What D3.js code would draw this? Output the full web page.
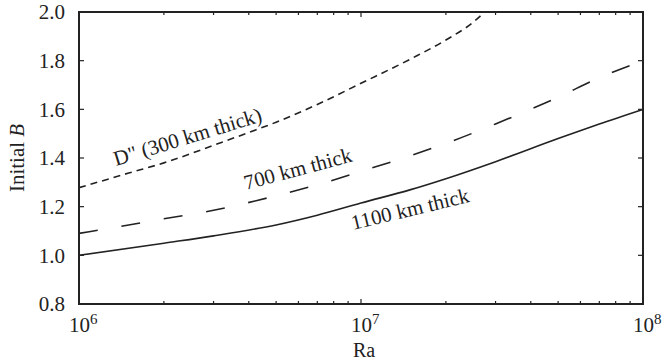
<!DOCTYPE html>
<html lang="en">
<head>
  <meta charset="UTF-8">
  <title>Initial B vs Ra</title>
  <script src="https://d3js.org/d3.v7.min.js"></script>
  <style>
    body { margin: 0; background: #fff; }
    svg { display: block; }
    text { font-family: "Liberation Serif", "Times New Roman", serif; fill: #222; }
  </style>
</head>
<body>
  <svg width="671" height="360"></svg>

  <script>
    // Rayleigh number samples and Initial B for each layer thickness
    const raDpp   = [1e6, 1.5e6, 2e6, 3e6, 4e6, 5e6, 7e6, 1e7, 1.5e7, 2e7, 2.5e7, 2.8e7];
    const bDpp    = [1.278, 1.338, 1.38, 1.452, 1.505, 1.547, 1.62, 1.707, 1.807, 1.885, 1.958, 2.01];

    const ra700   = [1e6, 1.5e6, 2e6, 3e6, 5e6, 7e6, 1e7, 1.5e7, 2e7, 3e7, 5e7, 7e7, 1e8];
    const b700    = [1.09, 1.125, 1.15, 1.185, 1.245, 1.29, 1.345, 1.41, 1.46, 1.54, 1.65, 1.73, 1.80];

    const ra1100  = [1e6, 2e6, 3e6, 5e6, 7e6, 1e7, 1.5e7, 2e7, 3e7, 5e7, 7e7, 1e8];
    const b1100   = [1.00, 1.05, 1.08, 1.125, 1.165, 1.215, 1.27, 1.315, 1.385, 1.48, 1.54, 1.60];

    const yTicks  = [0.8, 1.0, 1.2, 1.4, 1.6, 1.8, 2.0];
    const xMajor  = [1e6, 1e7, 1e8];
    const xExp    = ["6", "7", "8"];

    const svg = d3.select("svg");
    const margin = { top: 12, right: 28, bottom: 56, left: 79 };
    const width = 671, height = 360;

    const x = d3.scaleLog().domain([1e6, 1e8]).range([margin.left, width - margin.right]);
    const y = d3.scaleLinear().domain([0.8, 2.0]).range([height - margin.bottom, margin.top]);

    svg.append("clipPath").attr("id", "plot")
      .append("rect")
      .attr("x", margin.left).attr("y", margin.top)
      .attr("width", x.range()[1] - margin.left)
      .attr("height", y.range()[0] - margin.top);

    // minor ticks on log axis
    const xMinor = [];
    for (let e = 6; e < 8; e++) {
      for (let m = 2; m <= 9; m++) xMinor.push(m * Math.pow(10, e));
    }

    const tickG = svg.append("g").attr("stroke", "#222").attr("stroke-width", 1.2);
    const y0 = y(0.8), y1 = y(2.0);
    xMinor.forEach(v => {
      tickG.append("line").attr("x1", x(v)).attr("x2", x(v)).attr("y1", y0).attr("y2", y0 - 3);
      tickG.append("line").attr("x1", x(v)).attr("x2", x(v)).attr("y1", y1).attr("y2", y1 + 3);
    });
    xMajor.forEach(v => {
      tickG.append("line").attr("x1", x(v)).attr("x2", x(v)).attr("y1", y0).attr("y2", y0 - 5);
      tickG.append("line").attr("x1", x(v)).attr("x2", x(v)).attr("y1", y1).attr("y2", y1 + 5);
    });
    const xl = x(1e6), xr = x(1e8);
    yTicks.forEach(v => {
      tickG.append("line").attr("x1", xl).attr("x2", xl + 5).attr("y1", y(v)).attr("y2", y(v));
      tickG.append("line").attr("x1", xr).attr("x2", xr - 5).attr("y1", y(v)).attr("y2", y(v));
    });

    // y tick labels
    svg.append("g").selectAll("text")
      .data(yTicks)
      .join("text")
      .attr("x", xl - 14)
      .attr("y", d => y(d))
      .attr("dy", "0.35em")
      .attr("text-anchor", "end")
      .attr("font-size", 21)
      .text(d => d.toFixed(1));

    // x tick labels: 10 with superscript exponent
    xMajor.forEach((v, i) => {
      const t = svg.append("text")
        .attr("x", x(v) - 10)
        .attr("y", 332)
        .attr("font-size", 21);
      t.append("tspan").text("10");
      t.append("tspan").attr("font-size", 15).attr("dy", -8).text(xExp[i]);
    });

    svg.append("text")
      .attr("x", x(1e7) + 3)
      .attr("y", 357)
      .attr("text-anchor", "middle")
      .attr("font-size", 20)
      .text("Ra");

    const yl = svg.append("text")
      .attr("transform", `translate(24,${(y0 + y1) / 2}) rotate(-90)`)
      .attr("text-anchor", "middle")
      .attr("font-size", 21);
    yl.append("tspan").text("Initial ");
    yl.append("tspan").attr("font-style", "italic").text("B");

    // curves
    const line = d3.line()
      .x(d => x(d[0]))
      .y(d => y(d[1]))
      .curve(d3.curveMonotoneX);

    const series = [
      { ra: raDpp, b: bDpp, dash: "7,5" },
      { ra: ra700, b: b700, dash: "19,24" },
      { ra: ra1100, b: b1100, dash: null }
    ];

    const curves = svg.append("g").attr("clip-path", "url(#plot)");
    series.forEach(s => {
      curves.append("path")
        .datum(s.ra.map((r, i) => [r, s.b[i]]))
        .attr("fill", "none")
        .attr("stroke", "#222")
        .attr("stroke-width", 1.6)
        .attr("stroke-dasharray", s.dash)
        .attr("d", line);
    });

    // frame
    svg.append("rect")
      .attr("x", xl).attr("y", y1)
      .attr("width", xr - xl).attr("height", y0 - y1)
      .attr("fill", "none")
      .attr("stroke", "#222")
      .attr("stroke-width", 2);

    // curve labels
    const labels = [
      { text: "D\" (300 km thick)", x: 116, y: 166, angle: -17 },
      { text: "700 km thick", x: 246, y: 190, angle: -15 },
      { text: "1100 km thick", x: 353, y: 230, angle: -13.5 }
    ];
    svg.append("g").selectAll("text")
      .data(labels)
      .join("text")
      .attr("transform", d => `translate(${d.x},${d.y}) rotate(${d.angle})`)
      .attr("font-size", 21)
      .text(d => d.text);
  </script>
</body>
</html>
